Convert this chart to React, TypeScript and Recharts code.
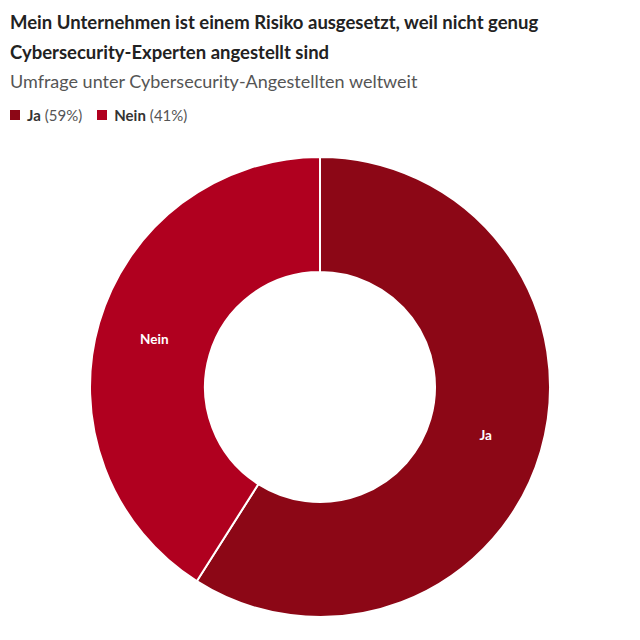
import { PieChart, Pie, Cell } from "recharts";

const categories = ["Ja", "Nein"];
const shares = [59, 41];
const colors = ["#8c0716", "#b0001f"];

const data = categories.map((name, i) => ({ name, value: shares[i] }));

const FONT = "Lato, 'Open Sans', sans-serif";
const RAD = Math.PI / 180;

// label in the middle of the ring
// eslint-disable-next-line @typescript-eslint/no-explicit-any
const renderLabel = (props: any) => {
  const { cx, cy, midAngle, innerRadius, outerRadius, name } = props;
  const r = (innerRadius + outerRadius) / 2;
  const x = cx + r * Math.cos(-midAngle * RAD);
  const y = cy + r * Math.sin(-midAngle * RAD);
  return (
    <text
      x={x}
      y={y}
      fill="#ffffff"
      fontSize={13.5}
      fontWeight={700}
      fontFamily={FONT}
      textAnchor="middle"
      dominantBaseline="central"
    >
      {name}
    </text>
  );
};

export default function App() {
  return (
    <div style={{ position: "absolute", left: 0, top: 0, width: 640, height: 640, background: "#fff" }}>
      <div
        style={{
          position: "absolute",
          left: 10,
          top: 7,
          fontFamily: FONT,
          fontWeight: 700,
          fontSize: 18.5,
          lineHeight: "30px",
          color: "#222",
        }}
      >
        Mein Unternehmen ist einem Risiko ausgesetzt, weil nicht genug
        <br />
        Cybersecurity-Experten angestellt sind
      </div>
      <div
        style={{
          position: "absolute",
          left: 10,
          top: 70,
          fontFamily: FONT,
          fontSize: 18,
          color: "#555",
        }}
      >
        Umfrage unter Cybersecurity-Angestellten weltweit
      </div>
      <div
        style={{
          position: "absolute",
          left: 10,
          top: 106,
          display: "flex",
          gap: 15,
          fontFamily: FONT,
          fontSize: 15,
          color: "#333",
        }}
      >
        {data.map((d, i) => (
          <div key={d.name} style={{ display: "flex", alignItems: "center" }}>
            <span style={{ width: 10, height: 10, background: colors[i], marginRight: 7, display: "inline-block" }} />
            <span style={{ fontWeight: 700 }}>{d.name}</span>
            <span style={{ marginLeft: 4, color: "#555" }}>({d.value}%)</span>
          </div>
        ))}
      </div>
      <PieChart
        width={640}
        height={640}
        margin={{ top: 0, right: 0, bottom: 0, left: 0 }}
        style={{ position: "absolute", left: 0, top: 0 }}
      >
        <Pie
          data={data}
          dataKey="value"
          nameKey="name"
          cx={320}
          cy={387}
          innerRadius={115}
          outerRadius={230}
          startAngle={90}
          endAngle={-270}
          stroke="#ffffff"
          strokeWidth={2}
          label={renderLabel}
          labelLine={false}
          isAnimationActive={false}
        >
          {data.map((d, i) => (
            <Cell key={d.name} fill={colors[i]} />
          ))}
        </Pie>
      </PieChart>
    </div>
  );
}
